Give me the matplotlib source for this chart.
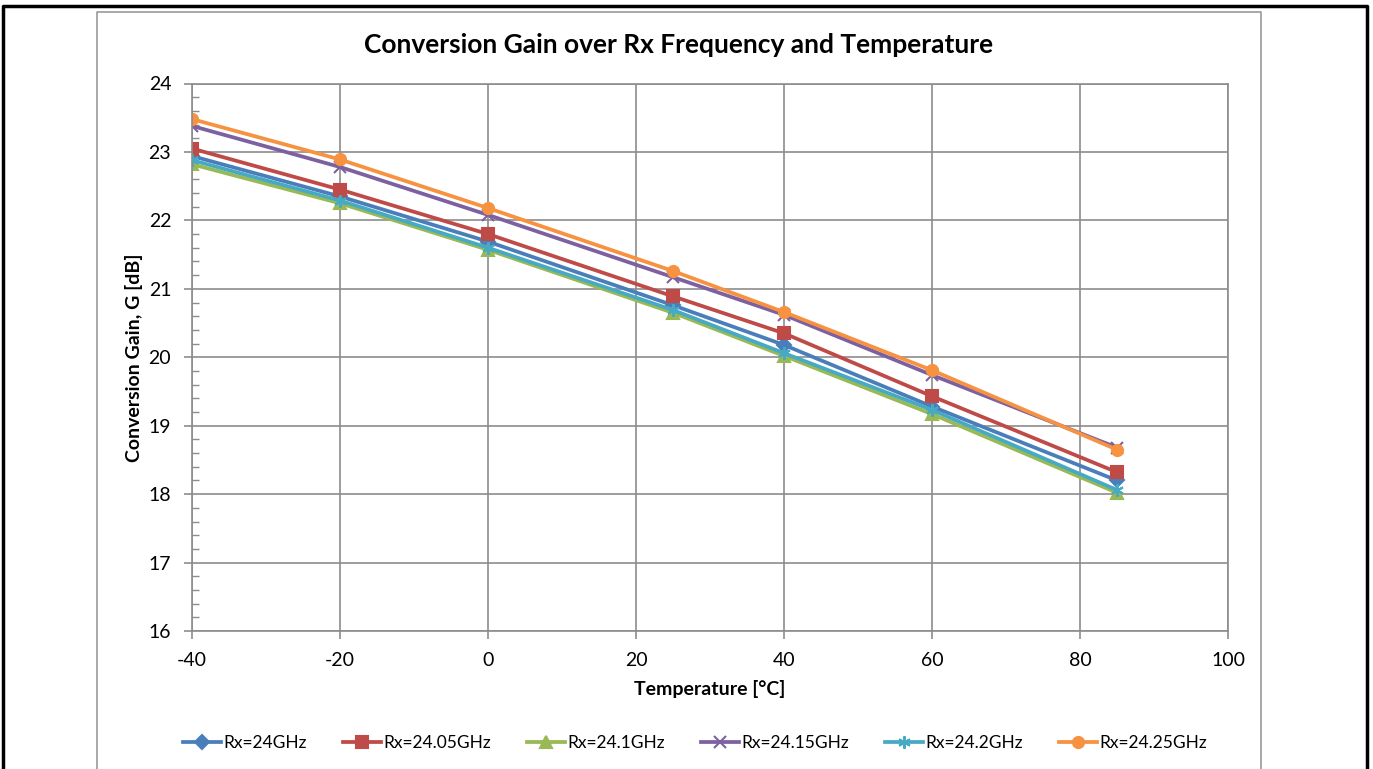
import matplotlib
matplotlib.use("Agg")
import matplotlib.pyplot as plt
from matplotlib.lines import Line2D
from matplotlib.ticker import MultipleLocator

plt.rcParams['font.family'] = ['Lato', 'DejaVu Sans']
plt.rcParams['axes.unicode_minus'] = False

temperature = [-40, -20, 0, 25, 40, 60, 85]

gain_24 = [22.94, 22.35, 21.69, 20.76, 20.18, 19.28, 18.20]
gain_24_05 = [23.05, 22.45, 21.80, 20.89, 20.35, 19.43, 18.32]
gain_24_1 = [22.82, 22.25, 21.57, 20.65, 20.02, 19.17, 18.02]
gain_24_15 = [23.38, 22.78, 22.08, 21.17, 20.62, 19.74, 18.68]
gain_24_2 = [22.88, 22.29, 21.60, 20.69, 20.06, 19.23, 18.06]
gain_24_25 = [23.48, 22.89, 22.18, 21.26, 20.66, 19.81, 18.65]

labels = ['Rx=24GHz', 'Rx=24.05GHz', 'Rx=24.1GHz',
          'Rx=24.15GHz', 'Rx=24.2GHz', 'Rx=24.25GHz']
series = [gain_24, gain_24_05, gain_24_1, gain_24_15, gain_24_2, gain_24_25]

colors = ['#4A7EBB', '#BE4B48', '#98B954', '#7D60A0', '#46AAC5', '#F69240']
markers = ['D', 's', '^', 'x', (6, 2, 0), 'o']
msizes = [7, 8, 8, 8, 9, 8]

W, H = 1373, 769
fig = plt.figure(figsize=(W / 100, H / 100), dpi=100)

# outer frame (black) and chart area border (gray), in pixel units
def frame(x0, y0, x1, y1, color, lw):
    xs = [x0 / W, x0 / W, x1 / W, x1 / W]
    ys = [1 - y1 / H, 1 - y0 / H, 1 - y0 / H, 1 - y1 / H]
    fig.add_artist(Line2D(xs, ys, color=color, lw=lw, transform=fig.transFigure))

frame(3, 6, 1367, 790, 'black', 2.5)
frame(97, 12, 1261, 790, '#9A9A9A', 1.2)

left, right = 192 / W, 1228 / W
top, bottom = 1 - 83.5 / H, 1 - 631 / H
ax = fig.add_axes([left, bottom, right - left, top - bottom])

for vals, lab, c, m, ms in zip(series, labels, colors, markers, msizes):
    ax.plot(temperature, vals, color=c, lw=2.7, marker=m, markersize=ms,
            markeredgecolor=c, markerfacecolor=c, mew=1.5, label=lab)

ax.set_xlim(-40, 100)
ax.set_ylim(16, 24)
ax.xaxis.set_major_locator(MultipleLocator(20))
ax.yaxis.set_major_locator(MultipleLocator(1))
ax.yaxis.set_minor_locator(MultipleLocator(0.2))
ax.grid(True, which='major', color='#8C8C8C', lw=1.2)
ax.set_axisbelow(True)
for s in ax.spines.values():
    s.set_color('#8C8C8C')
    s.set_linewidth(1.2)

ax.tick_params(axis='both', which='major', direction='out', length=6,
               color='#8C8C8C', width=1.2, labelsize=14, pad=9)
ax.tick_params(axis='y', which='minor', direction='in', length=5,
               color='#8C8C8C', width=1.0)
ax.tick_params(axis='x', which='minor', length=0)

ax.set_xlabel('Temperature [°C]', fontsize=14, fontweight='bold', labelpad=8)
ax.set_ylabel('Conversion Gain, G [dB]', fontsize=14, fontweight='bold', labelpad=4)

fig.text(679 / W, 1 - 45 / H, 'Conversion Gain over Rx Frequency and Temperature',
         ha='center', va='center', fontsize=19, fontweight='bold')

fig.legend(loc='center', bbox_to_anchor=(695 / W, 1 - 743 / H), ncol=6,
           frameon=False, fontsize=12.5, handlelength=2.2, handletextpad=0.1,
           columnspacing=2.1)

fig.savefig('out.png', dpi=100)
